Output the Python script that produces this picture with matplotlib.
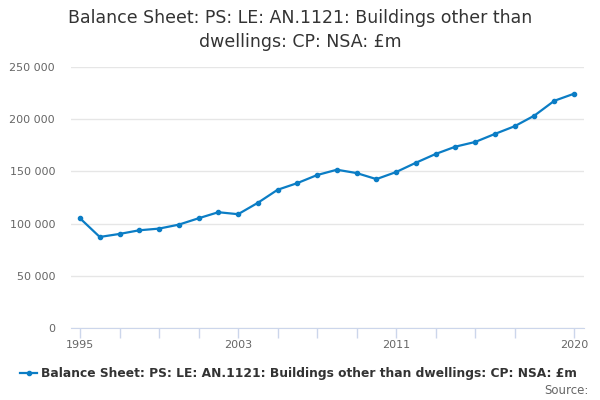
import matplotlib
matplotlib.use("Agg")
import matplotlib.pyplot as plt
from matplotlib.lines import Line2D

# data (£m)
years = list(range(1995, 2021))
values = [105100, 87200, 90100, 93600, 95200, 99000, 105100, 110900, 109000,
          119900, 132400, 138800, 146500, 151600, 148400, 142600, 149400,
          158300, 166700, 173700, 178200, 185900, 193300, 203500, 217600, 224400]
y_ticks = [0, 50000, 100000, 150000, 200000, 250000]
x_ticks = [1995, 1997, 1999, 2001, 2003, 2005, 2007, 2009, 2011, 2013, 2015, 2017, 2020]
x_labels = {1995: "1995", 2003: "2003", 2011: "2011", 2020: "2020"}

title = "Balance Sheet: PS: LE: AN.1121: Buildings other than\ndwellings: CP: NSA: £m"
series_name = "Balance Sheet: PS: LE: AN.1121: Buildings other than dwellings: CP: NSA: £m"
blue = "#0b7dc5"

fig = plt.figure(figsize=(6, 4), dpi=100)
ax = fig.add_axes([71 / 600, 1 - 328 / 400, 513 / 600, 261 / 400])

ax.plot(years, values, color=blue, lw=1.6, marker="o", markersize=3, zorder=3)

ax.set_xlim(1994.545, 2020.506)
ax.set_ylim(0, 250000)

# y axis: gridlines, no spine
ax.set_yticks(y_ticks)
ax.set_yticklabels([f"{v:,}".replace(",", " ") for v in y_ticks])
ax.grid(axis="y", color="#e6e6e6", lw=1)
ax.tick_params(axis="y", length=0, pad=11.5, labelsize=8, labelcolor="#666666")

# x axis
ax.set_xticks(x_ticks)
ax.set_xticklabels([x_labels.get(t, "") for t in x_ticks])
ax.tick_params(axis="x", length=7, width=1, color="#ccd6eb", pad=1.5,
               labelsize=8, labelcolor="#666666")
for s in ["top", "right", "left"]:
    ax.spines[s].set_visible(False)
ax.spines["bottom"].set_color("#ccd6eb")
ax.set_axisbelow(True)

fig.text(0.5, 1 - 30 / 400, title, ha="center", va="center", fontsize=12.5,
         color="#333333", linespacing=1.4)

# legend
ly = 1 - 373 / 400
fig.add_artist(Line2D([20 / 600, 37 / 600], [ly, ly], color=blue, lw=1.6))
fig.add_artist(Line2D([28.5 / 600], [ly], color=blue, marker="o", markersize=3))
fig.text(41 / 600, ly, series_name, ha="left", va="center",
         fontsize=8.8, fontweight="bold", color="#333333")
fig.text(589 / 600, 1 - 390 / 400, "Source:", ha="right", va="center",
         fontsize=8.5, color="#666666")

fig.savefig("out.png", dpi=100)
